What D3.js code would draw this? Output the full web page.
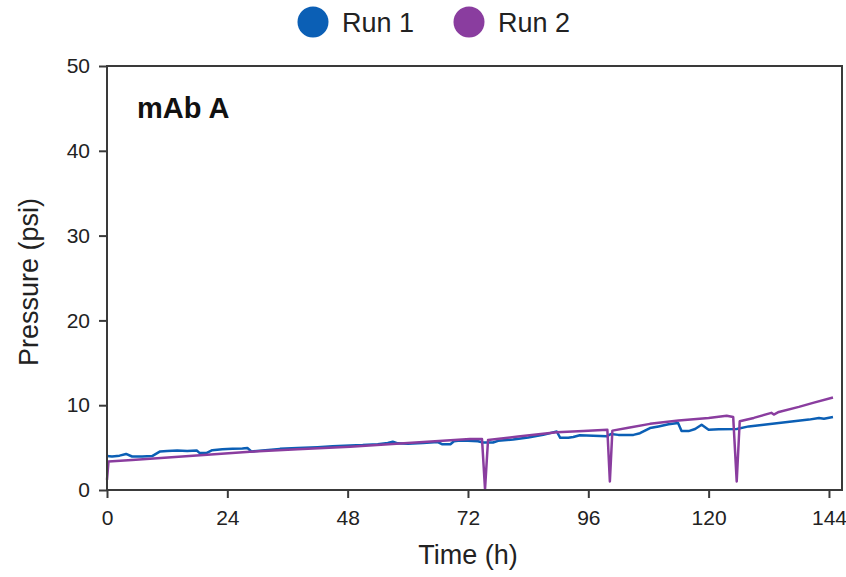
<!DOCTYPE html>
<html><head><meta charset="utf-8">
<script src="https://cdn.jsdelivr.net/npm/d3@7/dist/d3.min.js"></script>
<style>body{margin:0;background:#fff;} svg{display:block;font-family:"Liberation Sans",Arial,sans-serif;}</style>
</head><body><svg id="c" width="846" height="577"></svg>
<script>
const seriesNames = ["Run 1", "Run 2"];
const seriesColors = ["#0b5fb5", "#8a3d9f"];
const xTicks = [0, 24, 48, 72, 96, 120, 144];
const yTicks = [0, 10, 20, 30, 40, 50];
const panelLabel = "mAb A";

// Run 1 (blue): [time h, pressure psi]
const run1 = [
 [0,4.0],[1,3.95],[2.5,4.05],[3.8,4.25],[5,3.95],[7,3.95],[9,4.0],[10.6,4.55],[12,4.6],[14,4.65],[16,4.6],[17.9,4.65],
 [18.5,4.35],[19.8,4.35],[21,4.7],[23,4.8],[25,4.85],[27,4.9],[28,4.95],[28.8,4.55],[31,4.65],[34.5,4.85],
 [38,4.95],[42,5.05],[45,5.15],[48.5,5.25],[51,5.3],[54,5.4],[56,5.55],[57,5.7],[58,5.5],[60,5.45],[63,5.55],
 [66,5.65],[66.8,5.4],[68.5,5.4],[69.2,5.75],[70.4,5.85],[72,5.8],[74,5.75],[75,5.6],[77,5.6],[78,5.8],
 [81,5.95],[84,6.2],[87,6.5],[89.7,6.9],[90.4,6.15],[92,6.15],[93,6.25],[94.3,6.45],[97,6.4],[99.7,6.35],
 [100.5,6.6],[102,6.5],[105,6.5],[106.3,6.7],[108.3,7.3],[110,7.5],[112,7.75],[113.9,7.9],[114.6,6.95],
 [116,6.95],[117.3,7.2],[118.6,7.7],[120,7.1],[122,7.15],[125.6,7.2],[128,7.5],[131,7.7],[134,7.9],
 [137,8.1],[140,8.3],[142,8.5],[143,8.4],[144.8,8.6]
];
// Run 2 (purple)
const run2 = [
 [0,1.2],[0.3,3.35],[5,3.55],[10,3.75],[20,4.15],[28.5,4.5],[38,4.8],[48.5,5.1],[60,5.55],[72.4,6.0],
 [74.8,6.0],[75.4,0.1],[76.0,5.9],[82,6.3],[89.7,6.8],[95,6.95],[99.8,7.1],[100.3,1.0],[100.8,7.0],
 [104,7.35],[108.3,7.8],[114,8.2],[120,8.5],[123.6,8.75],[124.9,8.6],[125.6,1.0],[126.2,8.1],[129,8.5],
 [132.5,9.1],[133,8.9],[134,9.2],[138,9.8],[141,10.3],[144.8,10.9]
];
const runs = [run1, run2];

const svg = d3.select("#c");
const L = 107, R = 842, T = 66, B = 490;
const x = d3.scaleLinear().domain([0, 146.6]).range([L, R]);
const y = d3.scaleLinear().domain([0, 50]).range([B, T]);

// data lines
const line = d3.line().x(d => x(d[0])).y(d => y(d[1]));
runs.forEach((r, i) => {
  svg.append("path").attr("d", line(r)).attr("fill", "none")
    .attr("stroke", seriesColors[i]).attr("stroke-width", 2.5).attr("stroke-linejoin", "round");
});

// frame
svg.append("rect").attr("x", L).attr("y", T).attr("width", R - L).attr("height", B - T)
  .attr("fill", "none").attr("stroke", "#3a3a3a").attr("stroke-width", 2);

// axes
const xAxis = svg.append("g").attr("transform", `translate(0,${B})`)
  .call(d3.axisBottom(x).tickValues(xTicks).tickSize(8).tickPadding(12));
const yAxis = svg.append("g").attr("transform", `translate(${L},0)`)
  .call(d3.axisLeft(y).tickValues(yTicks).tickSize(8).tickPadding(9));
[xAxis, yAxis].forEach(g => {
  g.select(".domain").remove();
  g.selectAll("line").attr("stroke", "#3a3a3a").attr("stroke-width", 2);
  g.selectAll("text").attr("font-size", 21).attr("fill", "#222").attr("font-family", "Liberation Sans, Arial, sans-serif");
});
xAxis.selectAll("text").attr("dy", "0.71em");

// axis titles
svg.append("text").attr("x", (L + 829) / 2).attr("y", 564).attr("text-anchor", "middle")
  .attr("font-size", 27).attr("fill", "#222").text("Time (h)");
svg.append("text").attr("transform", `translate(38,${(T + B) / 2 + 4}) rotate(-90)`).attr("text-anchor", "middle")
  .attr("font-size", 27).attr("fill", "#222").text("Pressure (psi)");

// panel label
svg.append("text").attr("x", 137).attr("y", 118).attr("font-size", 29).attr("font-weight", "bold")
  .attr("fill", "#111").text(panelLabel);

// legend
const legX = [313, 469];
seriesNames.forEach((n, i) => {
  svg.append("circle").attr("cx", legX[i]).attr("cy", 22).attr("r", 15.5).attr("fill", seriesColors[i]);
  svg.append("text").attr("x", legX[i] + 29).attr("y", 32).attr("font-size", 27).attr("fill", "#222").text(n);
});
</script></body></html>
